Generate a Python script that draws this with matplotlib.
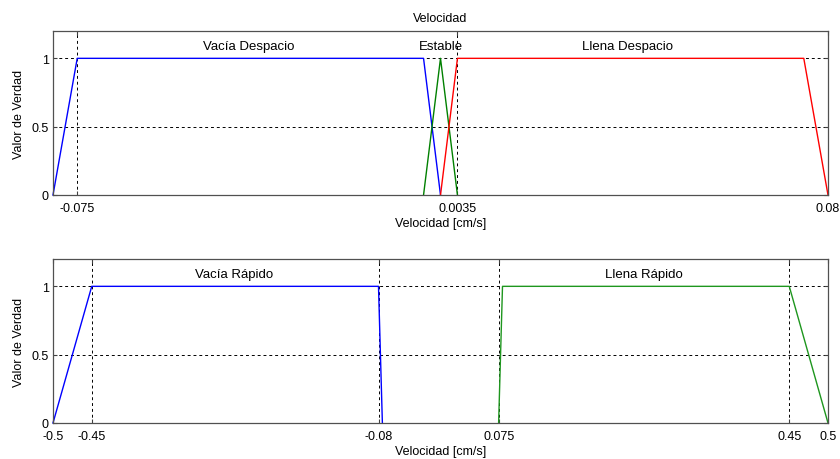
import matplotlib
matplotlib.use("Agg")
import matplotlib.pyplot as plt

plt.rcParams['font.family'] = ['Liberation Sans', 'DejaVu Sans']
plt.rcParams['font.size'] = 9

# Membership functions (trapezoid/triangle breakpoints) for slow speed
slow_x = {
    "Vacía Despacio": [-0.08, -0.075, -0.0035, 0.0],
    "Estable": [-0.0035, 0.0, 0.0035],
    "Llena Despacio": [0.0, 0.0035, 0.075, 0.08],
}
slow_y = {
    "Vacía Despacio": [0, 1, 1, 0],
    "Estable": [0, 1, 0],
    "Llena Despacio": [0, 1, 1, 0],
}
slow_colors = {"Vacía Despacio": "#0000ff", "Estable": "#008000", "Llena Despacio": "#ff0000"}
slow_label_x = {"Vacía Despacio": -0.0395, "Estable": 0.0, "Llena Despacio": 0.0387}
slow_xticks = [-0.075, 0.0035, 0.08]
slow_xticklabels = ["-0.075", "0.0035", "0.08"]

# Membership functions for fast speed
fast_x = {
    "Vacía Rápido": [-0.5, -0.45, -0.08, -0.075],
    "Llena Rápido": [0.075, 0.08, 0.45, 0.5],
}
fast_y = {
    "Vacía Rápido": [0, 1, 1, 0],
    "Llena Rápido": [0, 1, 1, 0],
}
fast_colors = {"Vacía Rápido": "#0000ff", "Llena Rápido": "#1e961e"}
fast_label_x = {"Vacía Rápido": -0.2665, "Llena Rápido": 0.263}
fast_xticks = [-0.5, -0.45, -0.08, 0.075, 0.45, 0.5]
fast_xticklabels = ["-0.5", "-0.45", "-0.08", "0.075", "0.45", "0.5"]

yticks = [0, 0.5, 1]
yticklabels = ["0", "0.5", "1"]

W, H = 840, 460
fig = plt.figure(figsize=(W / 100, H / 100), dpi=100)

def make_axes(top_px, bottom_px):
    left, right = 53, 828
    return fig.add_axes([left / W, 1 - bottom_px / H, (right - left) / W, (bottom_px - top_px) / H])

def style(ax, xlim, xticks, xticklabels):
    ax.set_xlim(*xlim)
    ax.set_ylim(0, 1.2)
    ax.set_xticks(xticks)
    ax.set_xticklabels(xticklabels)
    ax.set_yticks(yticks)
    ax.set_yticklabels(yticklabels)
    ax.tick_params(direction='in', length=3, width=0.8, top=True, right=True,
                   labelsize=9, color='#404040')
    ax.tick_params(axis='x', pad=5)
    ax.tick_params(axis='y', pad=3)
    for s in ax.spines.values():
        s.set_color('#505050')
        s.set_linewidth(0.9)
    ax.grid(True, color='black', linestyle=(0, (3, 3)), linewidth=0.7)
    ax.set_axisbelow(True)
    ax.set_ylabel("Valor de Verdad", fontsize=9, labelpad=5)
    ax.set_xlabel("Velocidad [cm/s]", fontsize=9, labelpad=2)

ax1 = make_axes(32, 196)
style(ax1, (-0.08, 0.08), slow_xticks, slow_xticklabels)
for name in slow_x:
    ax1.plot(slow_x[name], slow_y[name], color=slow_colors[name], linewidth=1.0, clip_on=False)
    ax1.text(slow_label_x[name], 1.09, name, ha='center', va='center', fontsize=9.5)
ax1.set_title("Velocidad", fontsize=9, pad=7)

ax2 = make_axes(260, 424)
style(ax2, (-0.5, 0.5), fast_xticks, fast_xticklabels)
for name in fast_x:
    ax2.plot(fast_x[name], fast_y[name], color=fast_colors[name], linewidth=1.0, clip_on=False)
    ax2.text(fast_label_x[name], 1.09, name, ha='center', va='center', fontsize=9.5)

fig.savefig("out.png", dpi=100, facecolor='white')
